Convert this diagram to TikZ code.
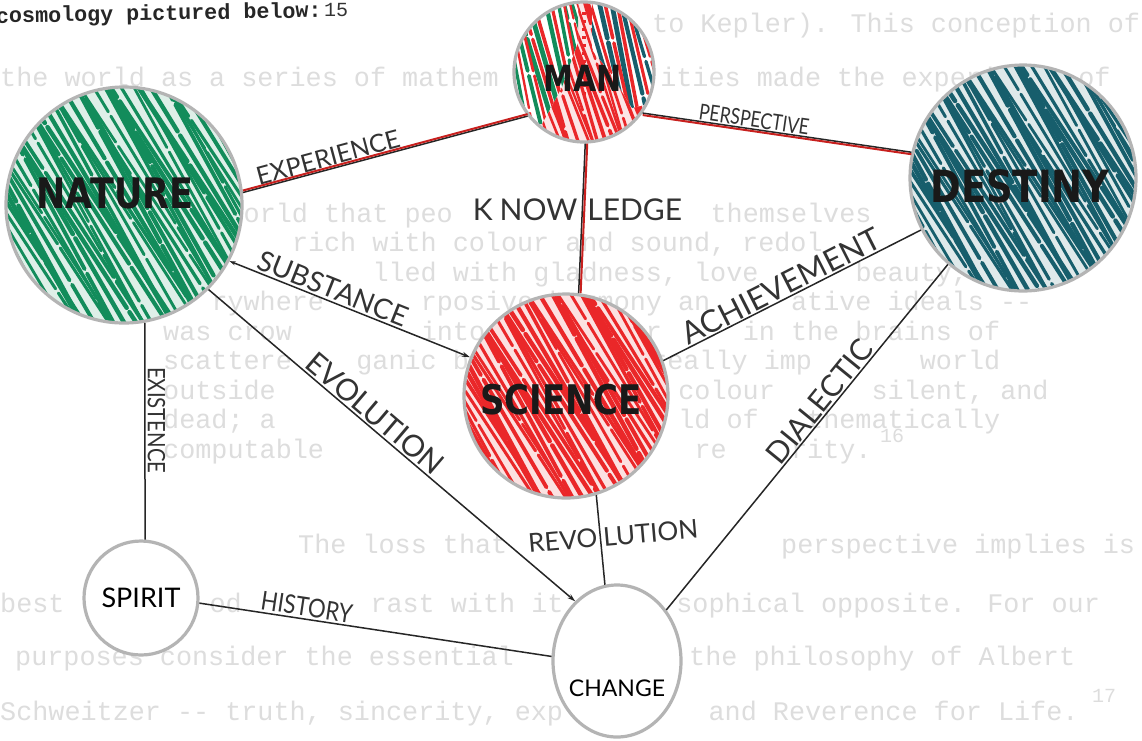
\documentclass[tikz,border=0pt]{standalone}
\usepackage{fontspec}
\usetikzlibrary{arrows.meta,shapes.geometric}
\newfontfamily\typew{Liberation Mono}
\newfontfamily\hand{Lato}
\newfontfamily\marker{DejaVu Sans}
\definecolor{ngreen}{HTML}{128C5B}
\definecolor{nteal}{HTML}{175E6C}
\definecolor{nred}{HTML}{EA2729}
\definecolor{lred}{HTML}{C8201E}
\definecolor{faint}{HTML}{DDDDDD}
\definecolor{rim}{HTML}{B4B4B4}
\pgfdeclarelayer{paper}
\pgfdeclarelayer{ink}
\pgfsetlayers{paper,ink,main}
% color, radius, step, width, slant
\newcommand{\inkstrokes}[5]{%
  \pgfmathtruncatemacro\hn{3.2*#2/#3}%
  \foreach \k in {0,...,\hn}{%
    \pgfmathsetmacro\hx{-1.6*#2+\k*#3+1.2*sin(\k*97)}%
    \pgfmathsetmacro\sl{#5+0.06*sin(\k*71)}%
    \pgfmathsetmacro\ph{mod(\k*37,131)}%
    \pgfmathsetmacro\lw{#4*(0.85+0.2*cos(\k*53))}%
    \draw[#1, line width=\lw pt, line cap=round, dash pattern=on 125pt off 5pt, dash phase=\ph pt]
      (\hx-\sl*#2,-#2) -- (\hx+\sl*#2,#2);
  }}
% node, radius, color
\newcommand{\hatchdisk}[3]{%
  \begin{scope}[shift={(#1.center)}]
    \fill[white] (0,0) circle[radius=#2];
    \clip (0,0) circle[radius=#2];
    \fill[#3!14!white] (0,0) circle[radius=#2];
    \inkstrokes{#3}{#2}{6}{4.3}{0.6}
  \end{scope}}
\begin{document}
\begin{tikzpicture}[x=1pt,y=-1pt,
  orb/.style={circle, inner sep=0pt, draw=rim, line width=3.2pt},
  big/.style={font=\marker\bfseries\fontsize{#1}{#1}\selectfont, text=black!90, inner sep=0pt},
  lab/.style={font=\hand\fontsize{#1}{#1}\selectfont, text=black!80, inner sep=2pt},
  cn/.style={draw=black!85, line width=1.5pt},
  rl/.style={draw=lred, line width=2pt},
  ft/.style={font=\typew\fontsize{26.8}{26.8}\selectfont, text=faint, anchor=base west, inner sep=0pt},
  arrowend/.style={-{Stealth[length=8pt,width=5pt]}}
]
\useasboundingbox (0,0) rectangle (1142,740);

% circles
\node[orb, minimum size=236pt, label={[big=35,xshift=-9pt,yshift=12pt]center:\scalebox{1}[1.2]{NATURE}}] (nature) at (124,205) {};
\node[orb, minimum size=140pt, label={[big=30,xshift=-1pt,yshift=-6pt]center:\scalebox{1}[1.2]{MAN}}] (man) at (584,72) {};
\node[orb, minimum size=226pt, label={[big=37,xshift=-3pt,yshift=-8pt]center:\scalebox{1}[1.2]{DESTINY}}] (destiny) at (1023,178) {};
\node[orb, minimum size=204pt, label={[big=34,xshift=-5pt,yshift=-4pt]center:\scalebox{1}[1.2]{SCIENCE}}] (science) at (566,396) {};
\node[orb, fill=white, minimum size=114pt, label={[lab=27,text=black]center:SPIRIT}] (spirit) at (141,598) {};
\node[ellipse, inner sep=0pt, draw=rim, line width=3.2pt, fill=white, minimum width=128pt, minimum height=152pt, label={[lab=23,text=black,yshift=-27pt]center:CHANGE}] (change) at (617,661) {};

% paper and typed text
\begin{pgfonlayer}{paper}
\fill[white] (0,0) rectangle (1142,740);
\node[ft] (f1) at (652,32) {to Kepler). This conception of};
\node[ft] (f2) at (0,86) {the world as a series of mathem};
\node[ft] (f3) at (660.1,86) {ities made the experience of};
\node[ft] (q1a) at (243.5,222) {orld that peo};
\node[ft] (q1b) at (710.4,222) {themselves};
\node[ft] (q2a) at (291.8,251) {rich with colour and sound, redol};
\node[ft] (q3a) at (372.3,281) {lled with gladness, love};
\node[ft] (q3b) at (855.3,281) {beauty,};
\node[ft] (q4a) at (211.3,310) {rywhere};
\node[ft] (q4b) at (420.6,310) {rposive harmony an};
\node[ft] (q4c) at (790.9,310) {ative ideals -{}-};
\node[ft] (q5a) at (163,340) {was crow};
\node[ft] (q5b) at (420.6,340) {into minute cor};
\node[ft] (q5c) at (742.6,340) {in the brains of};
\node[ft] (q6a) at (163,369) {scattere};
\node[ft] (q6b) at (356.2,369) {ganic beings. The really imp};
\node[ft] (q6c) at (919.7,369) {world};
\node[ft] (q7a) at (163,399) {outside};
\node[ft] (q7c) at (678.2,399) {colour};
\node[ft] (q7d) at (871.4,399) {silent, and};
\node[ft] (q8a) at (163,428) {dead; a};
\node[ft] (q8b) at (678.2,428) {ld of};
\node[ft] (q8c) at (807,428) {thematically};
\node[ft] (q9a) at (163,458) {computable};
\node[ft] (q9b) at (694.3,458) {re};
\node[ft] (q9c) at (790.9,458) {rity.};
\node[ft, font=\typew\fontsize{20}{20}\selectfont] (n16) at (880,442) {16};
\node[ft] (t3a) at (298,553) {The loss that};
\node[ft] (t3b) at (781,553) {perspective implies is};
\node[ft] (t4a) at (0,612) {best};
\node[ft] (t4b) at (209.3,612) {od};
\node[ft] (t4c) at (370.3,612) {rast with it};
\node[ft] (t4d) at (676.2,612) {sophical opposite. For our};
\node[ft] (t5a) at (15,665) {purposes consider the essential};
\node[ft] (t5b) at (689,665) {the philosophy of Albert};
\node[ft] (t6a) at (0,720) {Schweitzer -{}- truth, sincerity, exp};
\node[ft] (t6b) at (708.4,720) {and Reverence for Life.};
\node[ft, font=\typew\fontsize{20}{20}\selectfont] (n17) at (1092,702) {17};
\node[ft, text=black!85, font=\typew\bfseries\fontsize{21.7}{21.7}\selectfont, rotate=1] (head) at (-4,23) {cosmology pictured below:};
\node[ft, text=black!80, font=\typew\fontsize{20}{20}\selectfont] (n15) at (324,16) {15};
\end{pgfonlayer}

% hatching
\begin{pgfonlayer}{ink}
\hatchdisk{nature}{118}{ngreen}
\hatchdisk{destiny}{113}{nteal}
\hatchdisk{science}{102}{nred}
\begin{scope}[shift={(man.center)}]
  \fill[white] (0,0) circle[radius=70];
  \clip (0,0) circle[radius=70];
  \fill[nred!12!white] (0,0) circle[radius=70];
  \inkstrokes{nred}{70}{5.5}{3.6}{0.35}
  \begin{scope}
    \clip (-72,-72) -- (-6,-72) -- (-6,-30) -- (-22,15) -- (-42,52) -- (-72,52) -- cycle;
    \fill[white] (-72,-72) rectangle (0,60);
    \inkstrokes{ngreen}{70}{11}{4.6}{0.25}
    \begin{scope}[xshift=5.5pt]\inkstrokes{nred}{70}{11}{3.4}{0.25}\end{scope}
  \end{scope}
  \begin{scope}
    \clip (8,-72) -- (72,-72) -- (72,30) -- (48,36) -- (26,0) -- (8,-22) -- cycle;
    \fill[white] (0,-72) rectangle (72,40);
    \inkstrokes{nteal}{70}{11}{4.6}{0.25}
    \begin{scope}[xshift=5.5pt]\inkstrokes{nred}{70}{11}{3.4}{0.25}\end{scope}
  \end{scope}
  \draw[nred, line width=3.5pt, dash pattern=on 3pt off 5pt] (0,-60) -- (0,24);
\end{scope}
\end{pgfonlayer}

% connectors
\draw[cn] (nature.6) -- node[lab=25, sloped, above, pos=.31] {EXPERIENCE} (man.-142);
\draw[rl, transform canvas={yshift=2pt}] (nature.6) -- (man.-142);
\draw[cn] (man.-35) -- node[lab=22, sloped, above, pos=.41, inner sep=1pt] {\scalebox{0.8}[1]{PERSPECTIVE}} (destiny.167);
\draw[rl, transform canvas={yshift=-2pt}] (man.-35) -- (destiny.167);
\draw[cn] (man.-89) -- node[lab=30, pos=.44] {\llap{K\hspace{7pt}NOW\hspace{5pt}}\rlap{\hspace{5pt}LEDGE}} (science.83);
\draw[rl, transform canvas={xshift=2pt}] (man.-89) -- (science.83);
\draw[cn, {Stealth[length=6pt,width=4pt]}-{Stealth[length=8pt,width=5pt]}] (nature.-28) -- node[lab=28, sloped, above, pos=.41] {SUBSTANCE} (science.158);
\draw[cn, arrowend] (nature.-45) -- node[lab=30, sloped, above, pos=.43] {EVOLUTION} (change.125);
\draw[cn] (science.20) -- node[lab=31, sloped, above, pos=.48, inner sep=1pt] {ACHIEVEMENT} (destiny.207);
\draw[cn] (change.46) -- node[lab=30, sloped, above, pos=.58, inner sep=1pt] {DIALECTIC} (destiny.-131);
\draw[cn] (science.-73) -- node[lab=26, pos=.47, rotate=5] {\llap{REVO\hspace{3pt}}\rlap{\hspace{3pt}LUTION}} (change.99);
\draw[cn] (spirit.86) -- node[lab=24, sloped, above, pos=.55] {\scalebox{0.85}[1]{EXISTENCE}} (nature.-80);
\draw[cn] (spirit.-5) -- node[lab=26, sloped, above, pos=.3] {\scalebox{0.85}[1]{HISTORY}} (change.176);
\end{tikzpicture}
\end{document}
